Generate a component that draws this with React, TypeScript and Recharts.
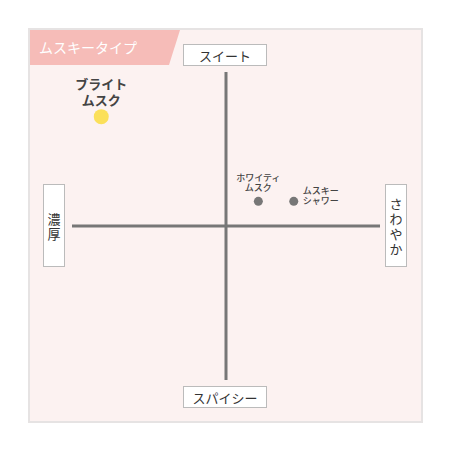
import React from 'react';
import { ScatterChart, Scatter, XAxis, YAxis, ReferenceLine } from 'recharts';

// product positions on the map (-10..10 each way)
const productLines = [
  ['ブライト', 'ムスク'],
  ['ホワイティ', 'ムスク'],
  ['ムスキー', 'シャワー'],
];
const xValues = [-8.1, 2.1, 4.4];
const yValues = [7.1, 1.6, 1.6];

const axisTop = 'スイート';
const axisBottom = 'スパイシー';
const axisLeft = '濃厚';
const axisRight = 'さわやか';
const title = 'ムスキータイプ';

const data = productLines.map((lines, i) => ({ lines, x: xValues[i], y: yValues[i], idx: i }));

const FONT = '"Noto Sans CJK JP", "Noto Sans", sans-serif';

const ProductMark = (props: any) => {
  const { cx, cy, payload } = props;
  const [l1, l2] = payload.lines;
  if (payload.idx === 0) {
    return (
      <g>
        <circle cx={cx} cy={cy} r={7.5} fill="#fbe05a" />
        <text x={cx} y={cy - 33} textAnchor="middle" dominantBaseline="central" fontSize={13} fontWeight="bold" fill="#444" fontFamily={FONT}>{l1}</text>
        <text x={cx} y={cy - 17} textAnchor="middle" dominantBaseline="central" fontSize={13} fontWeight="bold" fill="#444" fontFamily={FONT}>{l2}</text>
      </g>
    );
  }
  if (payload.idx === 1) {
    return (
      <g>
        <circle cx={cx} cy={cy} r={4.5} fill="#777" />
        <text x={cx} y={cy - 24} textAnchor="middle" dominantBaseline="central" fontSize={9} fontWeight={500} fill="#444" fontFamily={FONT}>{l1}</text>
        <text x={cx} y={cy - 14} textAnchor="middle" dominantBaseline="central" fontSize={9} fontWeight={500} fill="#444" fontFamily={FONT}>{l2}</text>
      </g>
    );
  }
  return (
    <g>
      <circle cx={cx} cy={cy} r={4.5} fill="#777" />
      <text x={cx + 9} y={cy - 10.5} textAnchor="start" dominantBaseline="central" fontSize={9} fontWeight={500} fill="#444" fontFamily={FONT}>{l1}</text>
      <text x={cx + 9} y={cy - 0.5} textAnchor="start" dominantBaseline="central" fontSize={9} fontWeight={500} fill="#444" fontFamily={FONT}>{l2}</text>
    </g>
  );
};

const boxStyle: React.CSSProperties = {
  position: 'absolute',
  background: '#fff',
  border: '1px solid #bbb',
  boxSizing: 'border-box',
  color: '#333',
  fontFamily: FONT,
  display: 'flex',
  alignItems: 'center',
  justifyContent: 'center',
};

// vertical label: one character per row
const VerticalText = ({ text }: { text: string }) => (
  <div style={{ display: 'flex', flexDirection: 'column', alignItems: 'center', lineHeight: '15px' }}>
    {Array.from(text).map((ch, i) => <span key={i}>{ch}</span>)}
  </div>
);

const App: React.FC = () => {
  return (
    <div style={{ position: 'absolute', left: 0, top: 0, width: 450, height: 450, background: '#fff', fontFamily: FONT }}>
      {/* panel */}
      <div style={{ position: 'absolute', left: 28, top: 28, width: 395, height: 395, background: '#fcf2f1', border: '2px solid #e6e3e3', boxSizing: 'border-box' }} />
      {/* title tab */}
      <div style={{ position: 'absolute', left: 30, top: 30, width: 150, height: 35, background: '#f6bcb8', clipPath: 'polygon(0 0, 150px 0, 139px 100%, 0 100%)', color: '#fff', fontSize: 14, lineHeight: '35px', paddingLeft: 9, boxSizing: 'border-box' }}>{title}</div>

      <div style={{ position: 'absolute', left: 0, top: 0 }}>
        <ScatterChart width={450} height={450} margin={{ top: 72, right: 70, bottom: 70, left: 72 }}>
          <XAxis type="number" dataKey="x" domain={[-10, 10]} hide />
          <YAxis type="number" dataKey="y" domain={[-10, 10]} hide />
          <ReferenceLine x={0} stroke="#777" strokeWidth={3} />
          <ReferenceLine y={0} stroke="#777" strokeWidth={3} />
          <Scatter data={data} shape={<ProductMark />} isAnimationActive={false} />
        </ScatterChart>
      </div>

      {/* axis end labels */}
      <div style={{ ...boxStyle, left: 183, top: 44, width: 84, height: 22, fontSize: 13 }}>{axisTop}</div>
      <div style={{ ...boxStyle, left: 183, top: 386, width: 84, height: 22, fontSize: 13 }}>{axisBottom}</div>
      <div style={{ ...boxStyle, left: 43, top: 184, width: 22, height: 83, fontSize: 13 }}><VerticalText text={axisLeft} /></div>
      <div style={{ ...boxStyle, left: 385, top: 184, width: 22, height: 83, fontSize: 13 }}><VerticalText text={axisRight} /></div>
    </div>
  );
};

export default App;
